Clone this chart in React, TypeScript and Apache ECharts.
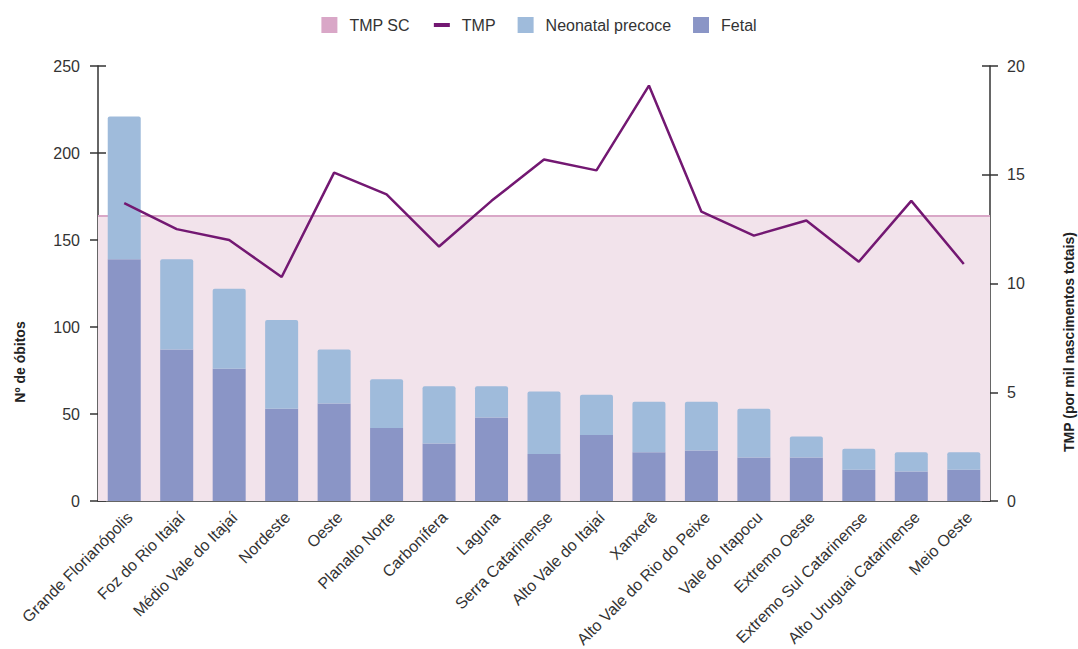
import React, { useEffect, useRef } from "react";
import * as echarts from "echarts";

const categories = [
  "Grande Florianópolis",
  "Foz do Rio Itajaí",
  "Médio Vale do Itajaí",
  "Nordeste",
  "Oeste",
  "Planalto Norte",
  "Carbonífera",
  "Laguna",
  "Serra Catarinense",
  "Alto Vale do Itajaí",
  "Xanxerê",
  "Alto Vale do Rio do Peixe",
  "Vale do Itapocu",
  "Extremo Oeste",
  "Extremo Sul Catarinense",
  "Alto Uruguai Catarinense",
  "Meio Oeste",
];

const fetal = [139, 87, 76, 53, 56, 42, 33, 48, 27, 38, 28, 29, 25, 25, 18, 17, 18];
const totals = [221, 139, 122, 104, 87, 70, 66, 66, 63, 61, 57, 57, 53, 37, 30, 28, 28];
const neonatalPrecoce = totals.map((t, i) => t - fetal[i]);
const tmp = [13.7, 12.5, 12.0, 10.3, 15.1, 14.1, 11.7, 13.8, 15.7, 15.2, 19.1, 13.3, 12.2, 12.9, 11.0, 13.8, 10.9];
const tmpSC = 13.1;
const tmpSCLine = categories.map(() => tmpSC);

const FONT = "Liberation Sans, Arial, sans-serif";

export default function App() {
  const ref = useRef<HTMLDivElement>(null);
  useEffect(() => {
    if (!ref.current) return;
    const chart = echarts.init(ref.current, null, { renderer: "svg" });
    const axisLine = { show: true, lineStyle: { color: "#333", width: 1.5 } };
    const tickStyle = { color: "#333", width: 1.5 };
    chart.setOption({
      animation: false,
      textStyle: { fontFamily: FONT },
      grid: {
        left: 98,
        right: 88,
        top: 66,
        bottom: 148,
        containLabel: false,
        outerBoundsMode: "none",
      },
      legend: {
        top: 12,
        left: "center",
        itemWidth: 16,
        itemHeight: 16,
        itemGap: 22,
        textStyle: { fontSize: 16, color: "#333", fontFamily: FONT, padding: [0, 0, 0, 7] },
        data: [
          { name: "TMP SC", icon: "rect" },
          { name: "TMP", lineStyle: { width: 4 }, itemStyle: { opacity: 0 } },
          { name: "Neonatal precoce", icon: "rect" },
          { name: "Fetal", icon: "rect" },
        ],
      },
      xAxis: [
        {
          type: "category",
          data: categories,
          axisLine,
          axisTick: { show: false },
          axisLabel: {
            interval: 0,
            rotate: 45,
            fontSize: 16,
            color: "#333",
            margin: 8,
            verticalAlign: "top",
            fontFamily: FONT,
          },
        },
        {
          type: "category",
          data: categories,
          boundaryGap: false,
          show: false,
        },
      ],
      yAxis: [
        {
          type: "value",
          min: 0,
          max: 250,
          interval: 50,
          position: "left",
          axisLine,
          axisTick: { show: true, length: 8, lineStyle: tickStyle },
          axisLabel: { fontSize: 16, color: "#333", margin: 18, fontFamily: FONT },
          splitLine: { show: false },
        },
        {
          type: "value",
          min: 0,
          max: 20,
          interval: 5,
          position: "right",
          axisLine,
          axisTick: { show: true, length: 8, lineStyle: tickStyle },
          axisLabel: { fontSize: 16, color: "#333", margin: 17, fontFamily: FONT },
          splitLine: { show: false },
        },
        {
          type: "value",
          min: 0,
          max: 250,
          interval: 50,
          position: "left",
          axisLine: { show: false },
          axisTick: { show: true, inside: true, length: 8, lineStyle: tickStyle },
          axisLabel: { show: false },
          splitLine: { show: false },
        },
        {
          type: "value",
          min: 0,
          max: 20,
          interval: 5,
          position: "right",
          axisLine: { show: false },
          axisTick: { show: true, inside: true, length: 8, lineStyle: tickStyle },
          axisLabel: { show: false },
          splitLine: { show: false },
        },
      ],
      series: [
        {
          name: "TMP SC",
          type: "line",
          xAxisIndex: 1,
          yAxisIndex: 1,
          data: tmpSCLine,
          symbol: "none",
          z: 1,
          itemStyle: { color: "#d9a7c7" },
          lineStyle: { color: "#d9a7c7", width: 2 },
          areaStyle: { color: "#f2e3eb", opacity: 1 },
        },
        {
          name: "Fetal",
          type: "bar",
          stack: "obitos",
          data: fetal,
          barWidth: 33,
          z: 2,
          itemStyle: { color: "#8a95c6" },
        },
        {
          name: "Neonatal precoce",
          type: "bar",
          stack: "obitos",
          data: neonatalPrecoce,
          barWidth: 33,
          z: 2,
          itemStyle: { color: "#9fbbdb", borderRadius: [2, 2, 0, 0] },
        },
        {
          name: "TMP",
          type: "line",
          yAxisIndex: 1,
          data: tmp,
          symbol: "none",
          z: 3,
          itemStyle: { color: "#731872" },
          lineStyle: { color: "#731872", width: 2.5 },
        },
      ],
      graphic: [
        {
          type: "text",
          x: 20,
          y: 362,
          rotation: Math.PI / 2,
          style: {
            text: "Nº de óbitos",
            font: `bold 14px ${FONT}`,
            fill: "#222",
            align: "center",
            verticalAlign: "middle",
          },
        },
        {
          type: "text",
          x: 1069,
          y: 342,
          rotation: Math.PI / 2,
          style: {
            text: "TMP (por mil nascimentos totais)",
            font: `bold 14px ${FONT}`,
            fill: "#222",
            align: "center",
            verticalAlign: "middle",
          },
        },
      ],
    });
    return () => chart.dispose();
  }, []);
  return (
    <div
      ref={ref}
      style={{ position: "absolute", left: 0, top: 0, width: 1078, height: 649 }}
    />
  );
}
